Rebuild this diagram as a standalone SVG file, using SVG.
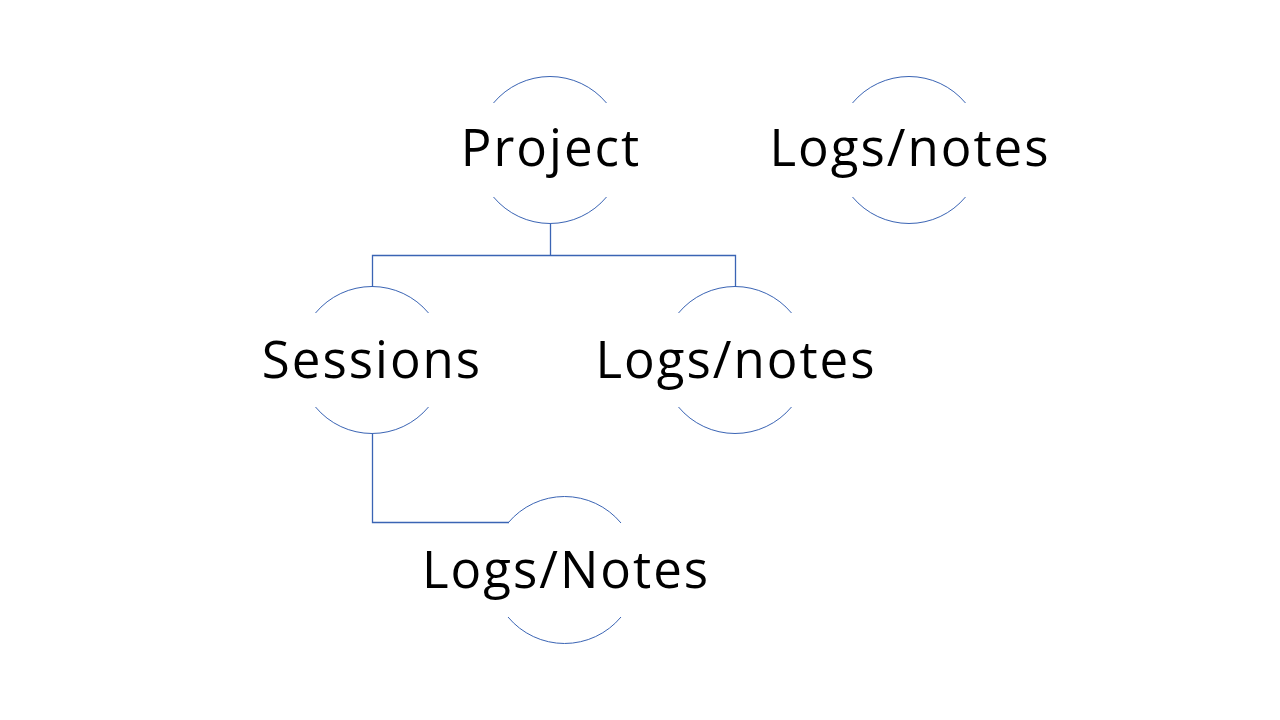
<svg xmlns="http://www.w3.org/2000/svg" width="1280" height="720" viewBox="0 0 1280 720">
<style>
.arc{fill:none;stroke:#3A64B4;stroke-width:1}
.con{fill:none;stroke:#3A64B4;stroke-width:1.3}
.lbl{font-family:"Open Sans","Liberation Sans",sans-serif;font-size:51px;letter-spacing:2px;fill:#000;text-anchor:middle}
</style>
<rect width="1280" height="720" fill="#fff"/>
<g id="connectors">
<path class="con" d="M550.5 224 V255.5 M372.5 287 V255.5 H735.5 V287"/>
<path class="con" d="M372.5 434 V522.5 H509"/>
</g>
<g id="project">
<path class="arc" d="M493.5 103 A73.5 73.5 0 0 1 606.5 103 M493.5 197 A73.5 73.5 0 0 0 606.5 197"/>
<text class="lbl" x="551" y="166">Project</text>
</g>
<g id="logs-top">
<path class="arc" d="M852.5 103 A73.5 73.5 0 0 1 965.5 103 M852.5 197 A73.5 73.5 0 0 0 965.5 197"/>
<text class="lbl" x="910" y="166">Logs/notes</text>
</g>
<g id="sessions">
<path class="arc" d="M315.5 313 A73.5 73.5 0 0 1 428.5 313 M315.5 407 A73.5 73.5 0 0 0 428.5 407"/>
<text class="lbl" x="372" y="378">Sessions</text>
</g>
<g id="logs-mid">
<path class="arc" d="M678.5 313 A73.5 73.5 0 0 1 791.5 313 M678.5 407 A73.5 73.5 0 0 0 791.5 407"/>
<text class="lbl" x="736" y="378">Logs/notes</text>
</g>
<g id="logs-bottom">
<path class="arc" d="M508 523 A73.5 73.5 0 0 1 621 523 M508 617 A73.5 73.5 0 0 0 621 617"/>
<text class="lbl" x="566" y="588">Logs/Notes</text>
</g>
</svg>
